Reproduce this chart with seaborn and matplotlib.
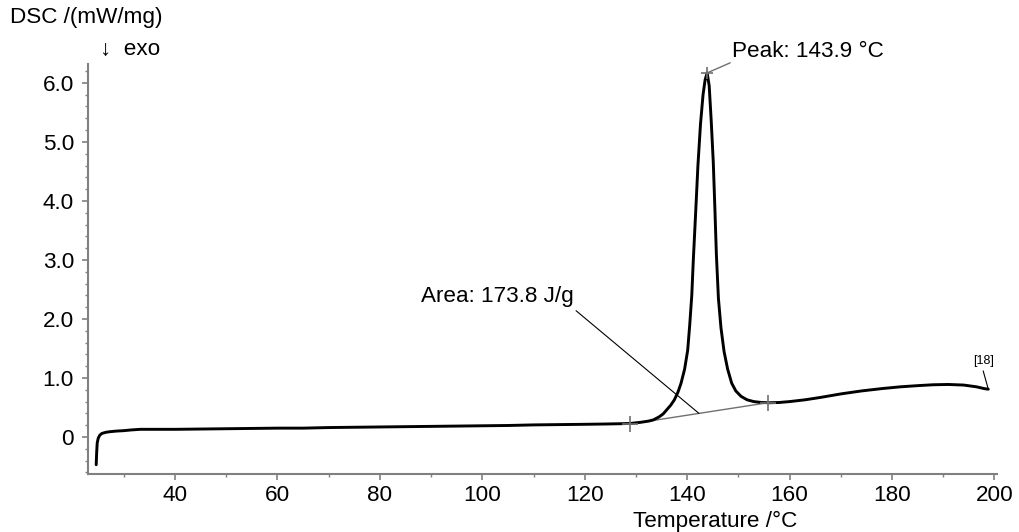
import matplotlib
matplotlib.use("Agg")
import matplotlib.pyplot as plt
import seaborn as sns
import pandas as pd
import numpy as np
from matplotlib.ticker import MultipleLocator, FixedLocator

# ---- data ----
temperature = [24.6, 24.7, 24.8, 25.0, 25.3, 25.7, 26.5, 27.3, 28.5, 29.9, 31.5, 33.2, 36, 40,
               45, 50, 55, 60, 65, 70, 75, 80, 85, 90, 95, 100, 105, 110, 115, 120, 124, 127,
               129, 131, 132.5, 133.4, 134.5, 135.3, 136.0, 136.8, 137.5, 138.2, 138.8, 139.5,
               140.1, 140.5, 140.9, 141.2, 141.6, 142.1, 142.6, 143.1, 143.5, 143.9, 144.3,
               144.7, 145.1, 145.4, 145.7, 146.1, 146.6, 147.2, 147.9, 148.7, 149.5, 150.5,
               151.7, 153, 154.5, 156, 158, 160, 163, 166, 170, 174, 178, 181.6, 185, 188,
               191, 194, 196.5, 198, 198.8]
dsc = [-0.47, -0.25, -0.10, -0.02, 0.03, 0.06, 0.08, 0.09, 0.10, 0.107, 0.12, 0.13, 0.13, 0.13,
       0.135, 0.14, 0.145, 0.15, 0.15, 0.16, 0.165, 0.17, 0.175, 0.18, 0.185, 0.19, 0.195, 0.205,
       0.21, 0.215, 0.22, 0.225, 0.23, 0.25, 0.27, 0.29, 0.34, 0.39, 0.46, 0.54, 0.63, 0.76,
       0.91, 1.15, 1.47, 1.90, 2.40, 3.00, 3.70, 4.60, 5.30, 5.80, 6.05, 6.17, 5.95, 5.35,
       4.65, 3.90, 3.10, 2.35, 1.85, 1.45, 1.15, 0.91, 0.78, 0.69, 0.63, 0.60, 0.585, 0.58,
       0.585, 0.60, 0.63, 0.67, 0.73, 0.78, 0.82, 0.85, 0.87, 0.885, 0.89, 0.88, 0.85, 0.82, 0.81]

baseline_T = [128.9, 155.7]
baseline_v = [0.22, 0.58]
peak_T = 143.9
peak_v = 6.17

x_ticks = [40, 60, 80, 100, 120, 140, 160, 180, 200]
y_ticks = [0, 1, 2, 3, 4, 5, 6]
y_ticklabels = ["0", "1.0", "2.0", "3.0", "4.0", "5.0", "6.0"]

peak_label = "Peak: 143.9 °C"
area_label = "Area: 173.8 J/g"
curve_label = "[18]"

# ---- figure ----
sns.set_style("white")
plt.rcParams["font.family"] = ["Liberation Sans", "DejaVu Sans"]
plt.rcParams["text.color"] = "black"
FS = 16.2

fig = plt.figure(figsize=(10.19, 5.32), dpi=100)
ax = fig.add_axes([88/1019, 1-474/532, (997-88)/1019, (474-64)/532])

df = pd.DataFrame({"T": temperature, "DSC": dsc})
sns.lineplot(data=df, x="T", y="DSC", ax=ax, color="black", lw=2.1,
             sort=False, estimator=None, zorder=3)

gray = "#707070"
# baseline
ax.plot(baseline_T, baseline_v, color=gray, lw=1.0, zorder=2)
ax.plot(baseline_T, baseline_v, ls="none", marker="+", ms=11, mew=1.2, color=gray, zorder=4)
ax.plot([peak_T], [peak_v], ls="none", marker="+", ms=9, mew=1.2, color=gray, zorder=4)

# area annotation
ax.plot([118.3, 142.3], [2.14, 0.40], color="black", lw=0.8, zorder=2)
ax.text(88.0, 2.38, area_label, fontsize=FS, ha="left", va="center", color="black")

# peak annotation
ax.plot([144.2, 148.4], [6.18, 6.34], color=gray, lw=1.0, clip_on=False)
ax.text(148.7, 6.53, peak_label, fontsize=FS, ha="left", va="center", clip_on=False,
        color="black")

# [18]
ax.plot([197.8, 198.8], [1.12, 0.81], color="black", lw=0.8)
ax.text(197.9, 1.28, curve_label, fontsize=9, ha="center", va="center", color="black")

ax.set_xlim(23.0, 200.5)
ax.set_ylim(-0.627, 6.32)
ax.xaxis.set_major_locator(FixedLocator(x_ticks))
ax.xaxis.set_minor_locator(MultipleLocator(10))
ax.yaxis.set_major_locator(FixedLocator(y_ticks))
ax.set_yticklabels(y_ticklabels)
ax.yaxis.set_minor_locator(MultipleLocator(0.2))

for s in ["top", "right"]:
    ax.spines[s].set_visible(False)
for s in ["left", "bottom"]:
    ax.spines[s].set_color("#808080")
    ax.spines[s].set_linewidth(1.5)

ax.tick_params(axis="both", which="major", direction="out", length=4, width=1.2,
               color="#808080", labelsize=FS, labelcolor="black")
ax.tick_params(axis="both", which="minor", direction="out", length=2.5, width=1.0,
               color="#808080")
ax.tick_params(axis="y", which="major", pad=6)
ax.tick_params(axis="x", which="major", pad=4)
ax.tick_params(axis="both", which="both", left=True, bottom=True)

ax.set_xlabel("")
ax.set_ylabel("")
fig.text(715/1019, 1-521/532, "Temperature /°C", fontsize=FS, ha="center", va="center",
         color="black")
fig.text(10/1019, 1-18/532, "DSC /(mW/mg)", fontsize=FS, ha="left", va="center",
         color="black")
fig.text(100/1019, 1-49/532, "↓  exo", fontsize=FS, ha="left", va="center", color="black")

fig.savefig("out.png", dpi=100, facecolor="white")
